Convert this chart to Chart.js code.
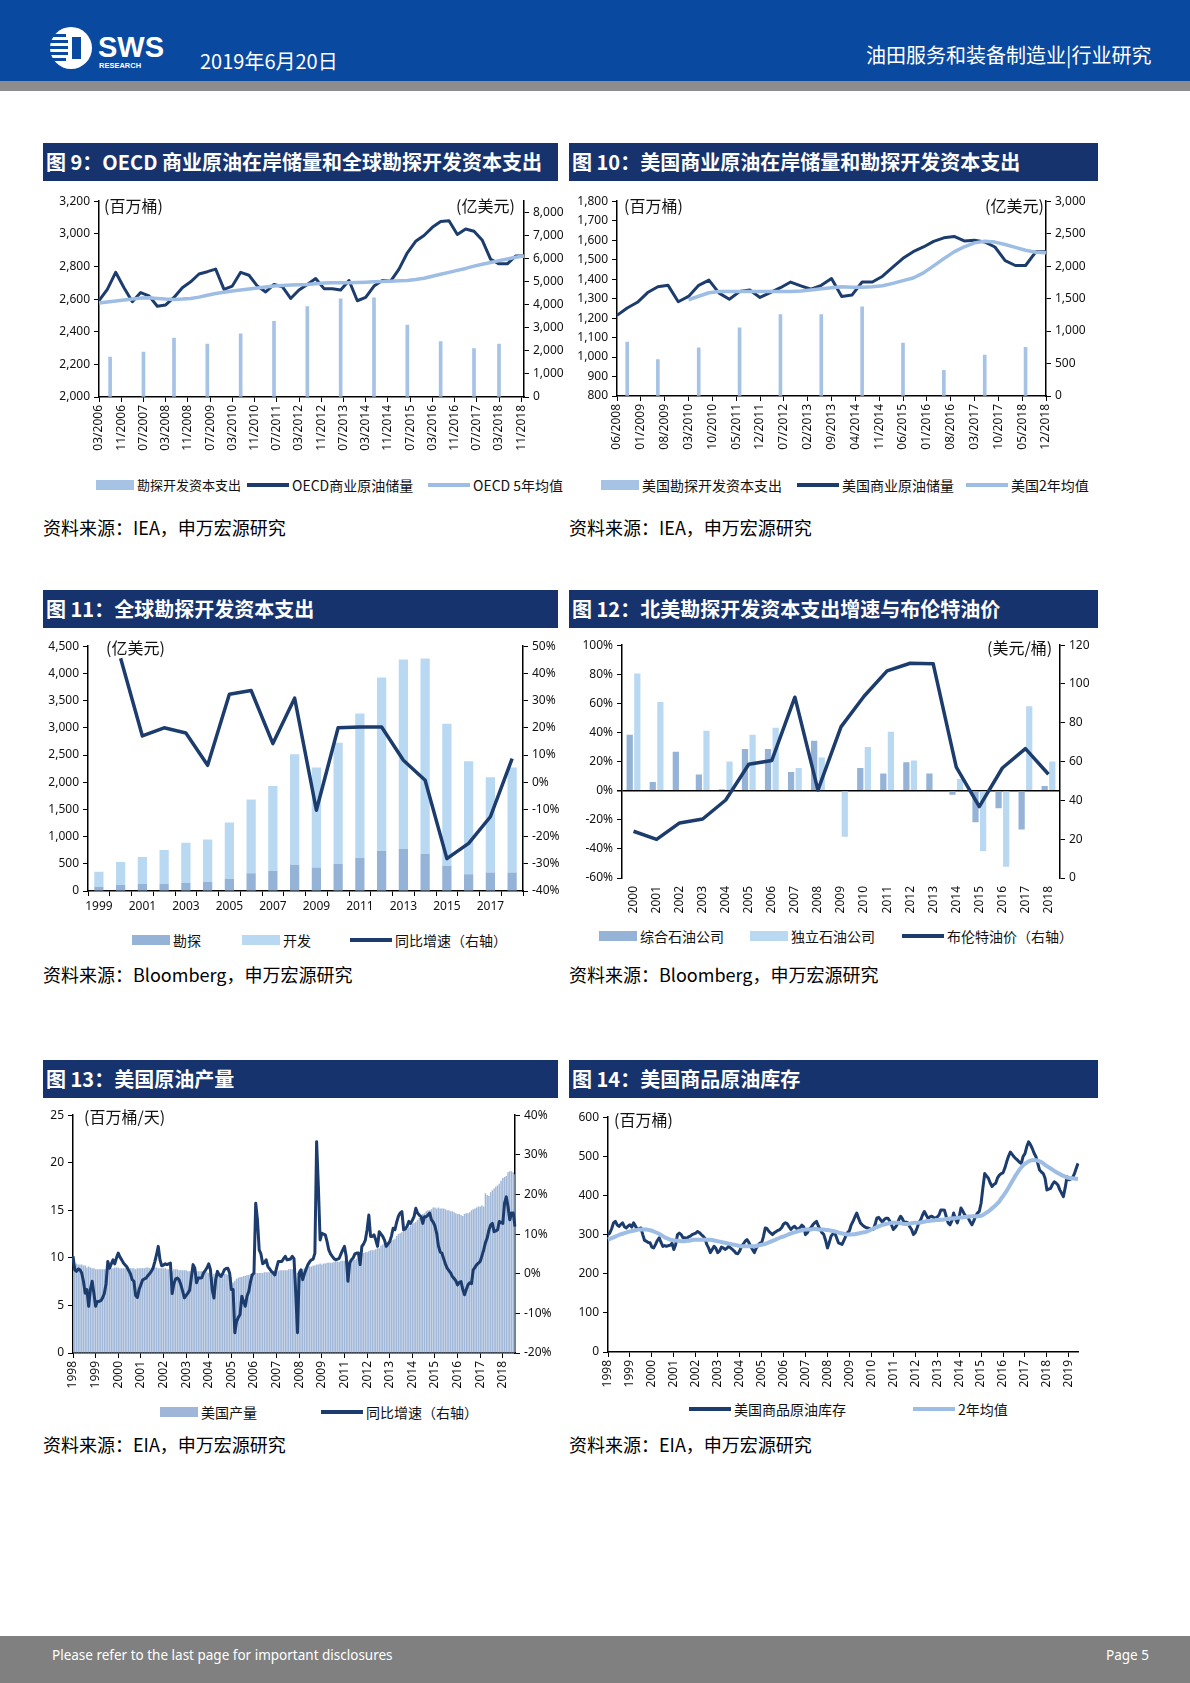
<!DOCTYPE html>
<html>
<head>
<meta charset="utf-8">
<script src="https://cdn.jsdelivr.net/npm/chart.js@4.4.1/dist/chart.umd.min.js"></script>
<style>
  body { margin: 0; width: 1190px; height: 1683px; position: relative; background: #fff; overflow: hidden;
         font-family: "Noto Sans CJK SC", "Noto Sans", sans-serif; }
  .abs { position: absolute; }
  .fig { position: absolute; height: 38px; background: #17336e; color: #fff; font-weight: bold; font-size: 20px;
         line-height: 38px; padding-left: 3px; box-sizing: border-box; white-space: nowrap; }
  .box { position: absolute; }
  .src { position: absolute; font-size: 18px; color: #000; white-space: nowrap; }
  .unit { position: absolute; font-size: 16px; color: #111; white-space: nowrap; line-height: 18px; }
  .leg { position: absolute; font-size: 14px; color: #111; display: flex; align-items: center; white-space: nowrap; line-height: 18px; }
  .sw { display: inline-block; margin-right: 3px; }
</style>
</head>
<body>

<!-- page header -->
<div class="abs" style="left:0;top:0;width:1190px;height:81px;background:#0a49a0"></div>
<div class="abs" style="left:0;top:81px;width:1190px;height:10px;background:#8c8c8c"></div>
<svg class="abs" style="left:50px;top:26px" width="130" height="46">
  <circle cx="21" cy="22" r="21" fill="#fff"/>
  <rect x="0" y="8" width="16" height="3" fill="#0a49a0"/>
  <rect x="0" y="14" width="18" height="3" fill="#0a49a0"/>
  <rect x="0" y="20" width="18" height="3" fill="#0a49a0"/>
  <rect x="0" y="26" width="18" height="3" fill="#0a49a0"/>
  <rect x="0" y="32" width="16" height="3" fill="#0a49a0"/>
  <path d="M22 11 h9 v22 h-9 z" fill="#0a49a0"/>
  <text x="48" y="31" font-family="Liberation Sans" font-weight="bold" font-size="29" fill="#fff">SWS</text>
  <text x="49" y="42" font-family="Liberation Sans" font-weight="bold" font-size="7.5" fill="#fff">RESEARCH</text>
</svg>
<div class="abs" style="left:200px;top:48px;color:#fff;font-size:20px;line-height:26px">2019年6月20日</div>
<div class="abs" style="left:866px;top:42px;color:#fff;font-size:20px;line-height:26px;white-space:nowrap">油田服务和装备制造业|行业研究</div>

<!-- row 1 -->
<div class="fig" style="left:43px;top:143px;width:515px">图 9：OECD 商业原油在岸储量和全球勘探开发资本支出</div>
<div class="fig" style="left:569px;top:143px;width:529px">图 10：美国商业原油在岸储量和勘探开发资本支出</div>
<div class="box" style="left:43px;top:190px;width:530px;height:272px"><canvas id="c9"></canvas></div>
<div class="box" style="left:569px;top:190px;width:531px;height:271px"><canvas id="c10"></canvas></div>
<div class="unit" style="left:104px;top:196px">(百万桶)</div>
<div class="unit" style="left:456px;top:196px">(亿美元)</div>
<div class="unit" style="left:624px;top:196px">(百万桶)</div>
<div class="unit" style="left:985px;top:196px">(亿美元)</div>

<div class="leg" style="left:96px;top:476px;font-size:13px"><span class="sw" style="width:38px;height:10px;background:#a6c3e6"></span>勘探开发资本支出</div>
<div class="leg" style="left:247px;top:476px"><span class="sw" style="width:42px;height:4px;background:#1c3c6d"></span>OECD商业原油储量</div>
<div class="leg" style="left:428px;top:476px"><span class="sw" style="width:42px;height:4px;background:#9dbde4"></span>OECD 5年均值</div>
<div class="leg" style="left:601px;top:476px"><span class="sw" style="width:38px;height:10px;background:#a6c3e6"></span>美国勘探开发资本支出</div>
<div class="leg" style="left:797px;top:476px"><span class="sw" style="width:42px;height:4px;background:#1c3c6d"></span>美国商业原油储量</div>
<div class="leg" style="left:966px;top:476px"><span class="sw" style="width:42px;height:4px;background:#9dbde4"></span>美国2年均值</div>

<div class="src" style="left:43px;top:514px">资料来源：IEA，申万宏源研究</div>
<div class="src" style="left:569px;top:514px">资料来源：IEA，申万宏源研究</div>

<!-- row 2 -->
<div class="fig" style="left:43px;top:590px;width:515px">图 11：全球勘探开发资本支出</div>
<div class="fig" style="left:569px;top:590px;width:529px">图 12：北美勘探开发资本支出增速与布伦特油价</div>
<div class="box" style="left:43px;top:635px;width:530px;height:286px"><canvas id="c11"></canvas></div>
<div class="box" style="left:569px;top:634px;width:531px;height:284px"><canvas id="c12"></canvas></div>
<div class="unit" style="left:106px;top:638px">(亿美元)</div>
<div class="unit" style="left:987px;top:638px">(美元/桶)</div>

<div class="leg" style="left:132px;top:931px"><span class="sw" style="width:38px;height:10px;background:#95b3d7"></span>勘探</div>
<div class="leg" style="left:242px;top:931px"><span class="sw" style="width:38px;height:10px;background:#b9d9f2"></span>开发</div>
<div class="leg" style="left:350px;top:931px"><span class="sw" style="width:42px;height:4px;background:#1c3c6d"></span>同比增速（右轴）</div>
<div class="leg" style="left:599px;top:927px"><span class="sw" style="width:38px;height:10px;background:#95b3d7"></span>综合石油公司</div>
<div class="leg" style="left:750px;top:927px"><span class="sw" style="width:38px;height:10px;background:#b9d9f2"></span>独立石油公司</div>
<div class="leg" style="left:902px;top:927px"><span class="sw" style="width:42px;height:4px;background:#1c3c6d"></span>布伦特油价（右轴）</div>

<div class="src" style="left:43px;top:961px">资料来源：Bloomberg，申万宏源研究</div>
<div class="src" style="left:569px;top:961px">资料来源：Bloomberg，申万宏源研究</div>

<!-- row 3 -->
<div class="fig" style="left:43px;top:1060px;width:515px">图 13：美国原油产量</div>
<div class="fig" style="left:569px;top:1060px;width:529px">图 14：美国商品原油库存</div>
<div class="box" style="left:43px;top:1104px;width:530px;height:294px"><canvas id="c13"></canvas></div>
<div class="box" style="left:569px;top:1106px;width:531px;height:291px"><canvas id="c14"></canvas></div>
<div class="unit" style="left:84px;top:1107px">(百万桶/天)</div>
<div class="unit" style="left:614px;top:1110px">(百万桶)</div>

<div class="leg" style="left:160px;top:1403px"><span class="sw" style="width:38px;height:10px;background:#9fb6d8"></span>美国产量</div>
<div class="leg" style="left:321px;top:1403px"><span class="sw" style="width:42px;height:4px;background:#1c3c6d"></span>同比增速（右轴）</div>
<div class="leg" style="left:689px;top:1400px"><span class="sw" style="width:42px;height:4px;background:#1c3c6d"></span>美国商品原油库存</div>
<div class="leg" style="left:913px;top:1400px"><span class="sw" style="width:42px;height:4px;background:#9dbde4"></span>2年均值</div>

<div class="src" style="left:43px;top:1431px">资料来源：EIA，申万宏源研究</div>
<div class="src" style="left:569px;top:1431px">资料来源：EIA，申万宏源研究</div>

<!-- footer -->
<div class="abs" style="left:0;top:1636px;width:1190px;height:47px;background:#808080"></div>
<div class="abs" style="left:52px;top:1646px;color:#fff;font-family:'Noto Sans';font-size:13.5px">Please refer to the last page for important disclosures</div>
<div class="abs" style="left:1106px;top:1646px;color:#fff;font-family:'Noto Sans';font-size:13.5px">Page 5</div>

<script>
// Fig 9: OECD stocks (quarterly from 03/2006), global E&P capex (annual)
const oecdStart = '03/2006';
const oecdStock = [2590, 2660, 2764, 2670, 2584, 2640, 2620, 2556, 2564, 2610, 2670, 2706, 2754,
  2768, 2784, 2660, 2680, 2764, 2746, 2680, 2644, 2690, 2676, 2604, 2656, 2690, 2726, 2664, 2664,
  2656, 2714, 2590, 2610, 2680, 2714, 2710, 2784, 2884, 2954, 2990, 3040, 3076, 3080, 2996, 3030,
  3016, 2960, 2844, 2816, 2816, 2864, 2864];
const oecd5yAvg = [2576, 2582, 2588, 2594, 2600, 2606, 2608, 2604, 2600, 2598, 2600, 2604, 2612,
  2624, 2634, 2642, 2650, 2656, 2662, 2668, 2674, 2680, 2684, 2686, 2688, 2690, 2694, 2698, 2700,
  2700, 2700, 2702, 2704, 2706, 2708, 2710, 2712, 2714, 2720, 2728, 2740, 2752, 2764, 2776, 2788,
  2802, 2814, 2824, 2836, 2846, 2856, 2864];
const globalCapexMonths = ['07/2006', '07/2007', '06/2008', '06/2009', '06/2010', '06/2011', '06/2012',
  '06/2013', '06/2014', '06/2015', '06/2016', '06/2017', '03/2018'];
const globalCapex = [1730, 1950, 2560, 2300, 2740, 3290, 3930, 4260, 4300, 3120, 2410, 2100, 2300];

// Fig 10: US stocks (quarterly from 06/2008), 2y average (from 03/2010), US capex
const usStart = '06/2008';
const usStock = [1214, 1252, 1281, 1331, 1361, 1368, 1284, 1311, 1368, 1395, 1328, 1297, 1336, 1344,
  1306, 1331, 1356, 1385, 1365, 1348, 1368, 1403, 1311, 1318, 1385, 1385, 1415, 1461, 1507, 1541,
  1565, 1594, 1612, 1619, 1596, 1599, 1591, 1565, 1495, 1470, 1470, 1540, 1540];
const us2yStart = '03/2010';
const us2yAvg = [1294, 1312, 1330, 1336, 1337, 1336, 1336, 1336, 1336, 1336, 1337, 1339, 1344, 1350,
  1356, 1361, 1358, 1358, 1361, 1366, 1378, 1392, 1406, 1432, 1468, 1505, 1540, 1566, 1586, 1594,
  1590, 1578, 1563, 1548, 1538, 1535];
const usCapexMonths = ['09/2008', '06/2009', '06/2010', '06/2011', '06/2012', '06/2013', '06/2014',
  '06/2015', '06/2016', '06/2017', '06/2018'];
const usCapex = [830, 560, 740, 1050, 1255, 1255, 1375, 815, 395, 630, 750];

// Fig 11: global capex by year
const capexYears = ['1999', '2000', '2001', '2002', '2003', '2004', '2005', '2006', '2007', '2008',
  '2009', '2010', '2011', '2012', '2013', '2014', '2015', '2016', '2017', '2018'];
const capexExplore = [80, 110, 128, 128, 147, 165, 220, 324, 373, 483, 434, 495, 605, 733, 770, 678,
  464, 306, 342, 342];
const capexTotal = [355, 532, 623, 752, 886, 947, 1259, 1681, 1932, 2512, 2268, 2726, 3264, 3924,
  4254, 4273, 3075, 2384, 2090, 2268];
const capexYoY = [null, 45.6, 17.0, 20.0, 18.1, 6.2, 32.3, 33.7, 14.2, 30.9, -10.3, 20.0, 20.3, 20.3,
  8.1, 0.7, -28.1, -22.5, -12.7, 8.7];

// Fig 12: North America capex growth and Brent
const naYears = ['2000', '2001', '2002', '2003', '2004', '2005', '2006', '2007', '2008', '2009',
  '2010', '2011', '2012', '2013', '2014', '2015', '2016', '2017', '2018'];
const integratedGrowth = [38.5, 5.9, 26.7, 11.1, 1.0, 28.7, 28.7, 12.9, 34.4, 0, 15.6, 11.8, 19.5,
  11.8, -2.7, -21.7, -12.0, -26.7, 3.2];
const independentGrowth = [80.5, 60.9, 0, 41.2, 20.1, 38.5, 43.2, 15.6, 22.9, -31.7, 30.1, 40.5,
  20.8, 0, 8.1, -41.4, -52.3, 58.1, 20.1];
const brent = [24.1, 19.9, 28.4, 30.4, 40.2, 58.6, 60.6, 93.2, 45.3, 77.9, 93.7, 106.8, 110.7, 110.4,
  57.2, 36.8, 56.7, 66.7, 53.5];

// Fig 13: US production, monthly from 1998-01
const prodStart = [1998, 1];
const usProduction = [
  10.2, 9.4, 9.4, 9.3, 9.3, 9.3, 9.2, 9.2, 9.0, 9.1, 9.0, 8.9,
  8.9, 8.8, 8.8, 8.8, 8.8, 8.8, 8.8, 8.8, 8.8, 8.9, 8.9, 8.9,
  9.0, 9.0, 9.0, 8.9, 8.9, 8.9, 8.9, 8.9, 8.9, 8.9, 8.9, 8.9,
  8.8, 8.9, 8.9, 8.9, 8.9, 8.9, 9.0, 9.0, 8.9, 9.0, 9.0, 9.0,
  9.0, 8.9, 8.9, 8.9, 8.9, 8.9, 8.8, 8.8, 8.4, 8.6, 8.8, 8.8,
  8.8, 8.7, 8.7, 8.7, 8.7, 8.7, 8.6, 8.6, 8.6, 8.6, 8.6, 8.6,
  8.6, 8.6, 8.6, 8.5, 8.5, 8.5, 8.4, 8.5, 8.0, 8.3, 8.4, 8.4,
  8.4, 8.4, 8.4, 8.3, 8.3, 8.2, 8.0, 8.0, 7.4, 7.6, 7.8, 7.9,
  8.0, 8.0, 8.1, 8.1, 8.2, 8.2, 8.3, 8.3, 8.3, 8.4, 8.4, 8.4,
  8.4, 8.4, 8.5, 8.5, 8.5, 8.5, 8.6, 8.6, 8.6, 8.6, 8.6, 8.7,
  8.7, 8.7, 8.7, 8.7, 8.8, 8.8, 8.8, 8.7, 7.9, 8.4, 8.7, 8.8,
  8.8, 8.9, 9.0, 9.1, 9.1, 9.1, 9.2, 9.2, 9.3, 9.3, 9.4, 9.3,
  9.4, 9.4, 9.5, 9.5, 9.5, 9.5, 9.6, 9.6, 9.6, 9.6, 9.7, 9.7,
  9.7, 9.6, 9.7, 9.8, 9.8, 9.8, 9.8, 9.9, 10.0, 10.2, 10.4, 10.5,
  10.6, 10.6, 10.7, 10.8, 10.8, 10.8, 10.9, 11.0, 11.0, 11.3, 11.4, 11.5,
  11.5, 11.6, 11.7, 11.8, 11.9, 12.0, 12.3, 12.5, 12.6, 12.7, 12.9, 13.0,
  13.0, 13.2, 13.4, 13.6, 13.7, 13.8, 14.0, 14.2, 14.3, 14.6, 14.7, 14.9,
  15.0, 15.0, 15.1, 15.3, 15.3, 15.2, 15.3, 15.2, 15.2, 15.2, 15.1, 15.0,
  15.0, 14.9, 14.9, 14.8, 14.7, 14.6, 14.6, 14.5, 14.4, 14.6, 14.7, 14.7,
  14.8, 15.0, 15.1, 15.2, 15.3, 15.4, 15.4, 15.5, 15.4, 16.8, 16.6, 16.5,
  16.9, 17.1, 17.3, 17.5, 17.6, 17.8, 18.1, 18.4, 18.5, 18.6, 19.0, 19.1,
  19.1, 19.0, 18.8];
const productionYoY = [
  4.4, 1.0, 0.6, 1.2, 1.0, 0.2, -1.9, -4.9, -4.0, -8.2, -4.0, -1.9,
  -4.9, -8.2, -7.0, -7.0, -6.8, -6.1, -5.0, -2.5, 3.1, 1.4, 2.5, 3.5,
  2.5, 4.0, 5.2, 4.2, 3.5, 2.7, 2.2, 1.7, 0.8, 0.0, -1.5, -1.9,
  -5.5, -6.0, -4.0, -2.8, -1.6, -1.3, -1.1, -0.5, 0.0, 0.6, 1.4, 3.0,
  4.8, 6.9, 3.5, 2.0, 2.2, 2.5, 2.3, 2.5, 2.7, -5.0, -2.5, -1.3,
  -1.1, -1.6, -2.8, -4.4, -6.1, -5.5, -4.9, -4.2, -1.0, 2.3, 1.4, -2.3,
  -1.1, -1.1, -1.0, 0.2, 0.8, 1.5, 2.5, 1.0, -4.0, -6.1, -1.5, 0.6,
  -0.3, -0.7, 0.0, 1.0, 1.3, 1.4, 0.2, -4.0, -4.0, -14.9, -12.0, -11.0,
  -10.3, -5.7, -7.0, -8.2, -5.7, -4.5, -2.0, -0.3, 0.2, 17.8, 13.6, 6.0,
  5.0, 2.5, 2.8, 3.5, 1.8, 1.2, 0.6, 0.2, -0.3, 1.5, 3.1, 3.1,
  3.1, 3.8, 4.4, 3.5, 3.6, 3.7, 4.4, 3.8, -4.9, -14.9, 0.2, 1.0,
  -1.5, 0.0, 1.2, 2.3, 3.0, 3.5, 3.7, 5.2, 33.3, 22.0, 8.5, 10.2,
  10.0, 9.8, 8.1, 6.0, 5.0, 4.4, 3.8, 3.5, 3.7, 3.9, 5.0, 6.0,
  6.9, 4.4, -1.9, 2.7, 3.5, 4.0, 5.0, 5.2, 5.2, 2.3, 6.9, 7.5,
  8.5, 11.1, 14.8, 9.4, 9.4, 9.8, 8.5, 6.9, 10.6, 10.0, 9.4, 8.5,
  6.9, 7.5, 8.1, 9.5, 11.5, 11.1, 13.0, 14.5, 15.3, 15.7, 11.1, 11.3,
  12.0, 13.2, 12.7, 13.5, 14.4, 16.5, 15.3, 14.8, 14.4, 12.7, 14.4, 14.4,
  14.8, 15.3, 13.6, 13.0, 12.0, 10.2, 7.0, 5.5, 5.2, 3.8, 2.5, 1.4,
  0.8, 0.2, -0.7, -1.2, -1.8, -2.8, -2.2, -2.0, -4.0, -5.3, -4.0, -2.8,
  -2.3, -2.5, 1.0, 1.6, 2.3, 2.7, 3.1, 4.5, 6.0, 7.8, 9.0, 11.0,
  12.3, 12.7, 10.6, 10.8, 11.1, 13.2, 12.9, 12.7, 17.8, 19.4, 16.9, 13.6,
  15.3, 15.3, 11.9];

// Fig 14: US commercial crude stocks, monthly from 1998-01
const stockStart = [1998, 1];
const usCommercialStock = [
  300, 304, 315, 330, 334, 325, 321, 326, 330, 320, 317, 322,
  325, 319, 330, 322, 313, 315, 317, 300, 285, 283, 280, 279,
  268, 266, 275, 285, 292, 280, 270, 272, 270, 272, 273, 278,
  262, 275, 300, 304, 300, 292, 292, 290, 294, 296, 300, 302,
  304, 308, 305, 300, 296, 290, 275, 266, 254, 262, 270, 265,
  254, 258, 268, 266, 262, 265, 270, 266, 262, 258, 252, 251,
  258, 270, 276, 283, 287, 280, 270, 262, 254, 265, 273, 278,
  279, 295, 317, 315, 308, 304, 300, 305, 308, 311, 313, 318,
  327, 330, 328, 320, 313, 318, 321, 316, 313, 318, 324, 320,
  300, 305, 313, 318, 325, 330, 334, 322, 313, 305, 300, 285,
  266, 280, 296, 302, 304, 292, 279, 277, 275, 285, 296, 305,
  310, 325, 334, 345, 355, 342, 330, 325, 321, 318, 317, 315,
  313, 313, 325, 342, 344, 338, 332, 338, 342, 342, 335, 325,
  313, 318, 325, 338, 347, 340, 330, 332, 330, 320, 313, 300,
  305, 317, 330, 338, 350, 359, 350, 342, 345, 347, 344, 342,
  345, 350, 363, 363, 362, 345, 330, 325, 335, 355, 340, 330,
  345, 368, 360, 351, 345, 342, 333, 325, 335, 347, 355, 359,
  380, 420, 456, 450, 444, 432, 423, 428, 431, 445, 452, 456,
  458, 470, 486, 500, 511, 505, 499, 494, 490, 485, 482, 500,
  507, 525, 537, 530, 520, 508, 499, 482, 465, 460, 456, 444,
  414, 416, 418, 428, 435, 432, 427, 415, 406, 397, 420, 448,
  440, 442, 445, 455, 469, 482];
const stock2yAvg = [
  287, 289, 291, 293, 295, 297, 299, 301, 302, 304, 305, 307,
  308, 309, 310, 311, 312, 313, 313, 313, 313, 313, 312, 311,
  310, 308, 306, 304, 302, 299, 296, 293, 291, 289, 287, 286,
  285, 285, 284, 284, 283, 283, 283, 284, 284, 285, 286, 287,
  287, 287, 287, 287, 287, 287, 287, 287, 287, 286, 285, 284,
  283, 282, 281, 280, 279, 278, 277, 276, 275, 274, 273, 272,
  271, 270, 270, 270, 270, 270, 270, 270, 270, 271, 272, 273,
  274, 275, 276, 278, 280, 282, 284, 286, 288, 290, 292, 294,
  295, 297, 299, 301, 303, 304, 306, 307, 309, 310, 311, 312,
  313, 313, 313, 313, 314, 314, 314, 313, 313, 313, 313, 312,
  312, 311, 310, 309, 308, 307, 305, 304, 303, 302, 301, 300,
  300, 300, 301, 301, 302, 303, 304, 305, 306, 307, 309, 311,
  313, 315, 317, 319, 321, 323, 325, 326, 327, 328, 329, 330,
  330, 330, 330, 330, 329, 328, 327, 327, 327, 328, 329, 330,
  330, 330, 330, 331, 332, 333, 334, 335, 335, 336, 336, 337,
  337, 337, 338, 338, 339, 340, 340, 341, 341, 342, 342, 343,
  343, 344, 344, 345, 345, 346, 346, 347, 347, 347, 347, 347,
  348, 350, 353, 356, 359, 363, 367, 371, 375, 380, 385, 392,
  398, 405, 412, 420, 428, 436, 444, 452, 459, 466, 472, 477,
  481, 484, 487, 489, 490, 490, 490, 489, 487, 485, 482, 478,
  475, 472, 469, 466, 463, 460, 457, 455, 452, 450, 448, 446,
  445, 444, 444, 443, 443, 443];

const DARK = '#1c3c6d';
const LIGHT = '#9dbde4';

Chart.defaults.font.family = '"Noto Sans", "Noto Sans CJK SC", sans-serif';
Chart.defaults.font.size = 12;
Chart.defaults.color = '#111';
Chart.defaults.animation = false;
Chart.defaults.plugins.legend.display = false;
Chart.defaults.plugins.tooltip.enabled = false;
Chart.defaults.maintainAspectRatio = false;

// "MM/YYYY" month labels
function monthLabels(year, month, count) {
  const out = [];
  for (let i = 0; i < count; i++) {
    const m = (month - 1 + i) % 12 + 1;
    const y = year + Math.floor((month - 1 + i) / 12);
    out.push(String(m).padStart(2, '0') + '/' + y);
  }
  return out;
}

// put a quarterly series onto the monthly category list
function quarterly(labels, start, values) {
  const out = labels.map(() => null);
  const i0 = labels.indexOf(start);
  values.forEach((v, k) => { out[i0 + k * 3] = v; });
  return out;
}

function atMonths(labels, months, values) {
  const out = labels.map(() => null);
  months.forEach((m, k) => { out[labels.indexOf(m)] = values[k]; });
  return out;
}

const fmtComma = v => v.toLocaleString('en-US');
const fmtPct = v => v + '%';

function yAxis(position, min, max, step, fmt, width) {
  return {
    position: position, min: min, max: max,
    ticks: { stepSize: step, callback: fmt, padding: 4 },
    grid: { drawOnChartArea: false, drawTicks: true, tickLength: 5, color: '#000' },
    border: { display: true, color: '#000', width: 1.5 },
    afterFit: s => { s.width = width; }
  };
}

function xAxis(height, cb, rotate) {
  return {
    offset: false,
    ticks: { autoSkip: false, maxRotation: rotate ? 90 : 0, minRotation: rotate ? 90 : 0, callback: cb, padding: 3 },
    grid: { offset: false, drawOnChartArea: false, drawTicks: true, tickLength: 5, color: '#000' },
    border: { display: true, color: '#000', width: 1.5 },
    afterFit: s => { s.height = height; }
  };
}

function lineSet(label, data, color, width, axis) {
  return { type: 'line', label: label, data: data, borderColor: color, backgroundColor: color,
    borderWidth: width, pointRadius: 0, tension: 0, spanGaps: true, borderJoinStyle: 'round',
    yAxisID: axis, order: 1 };
}

// ---- Fig 9
const labels9 = monthLabels(2006, 3, 154);
new Chart(document.getElementById('c9'), {
  type: 'bar',
  data: {
    labels: labels9,
    datasets: [
      { label: '勘探开发资本支出', data: atMonths(labels9, globalCapexMonths, globalCapex), backgroundColor: '#a6c3e6',
        barThickness: 3, yAxisID: 'y1', order: 2 },
      lineSet('OECD 5年均值', quarterly(labels9, oecdStart, oecd5yAvg), LIGHT, 3.5, 'y'),
      lineSet('OECD商业原油储量', quarterly(labels9, oecdStart, oecdStock), DARK, 3, 'y')
    ]
  },
  options: {
    layout: { padding: { top: 10 } },
    scales: {
      x: xAxis(65, (v, i) => i % 8 === 0 ? labels9[i] : null, true),
      y: yAxis('left', 2000, 3200, 200, fmtComma, 56),
      y1: yAxis('right', 0, 8500, 500, v => v % 1000 === 0 ? fmtComma(v) : null, 49)
    }
  }
});

// ---- Fig 10
const labels10 = monthLabels(2008, 6, 127);
new Chart(document.getElementById('c10'), {
  type: 'bar',
  data: {
    labels: labels10,
    datasets: [
      { label: '美国勘探开发资本支出', data: atMonths(labels10, usCapexMonths, usCapex), backgroundColor: '#a6c3e6',
        barThickness: 3, yAxisID: 'y1', order: 2 },
      lineSet('美国2年均值', quarterly(labels10, us2yStart, us2yAvg), LIGHT, 3.5, 'y'),
      lineSet('美国商业原油储量', quarterly(labels10, usStart, usStock), DARK, 3, 'y')
    ]
  },
  options: {
    layout: { padding: { top: 10 } },
    scales: {
      x: xAxis(65, (v, i) => i % 7 === 0 ? labels10[i] : null, true),
      y: yAxis('left', 800, 1800, 100, fmtComma, 48),
      y1: yAxis('right', 0, 3000, 500, fmtComma, 54)
    }
  }
});

// ---- Fig 11
const capexDevelop = capexTotal.map((t, i) => t - capexExplore[i]);
const x11 = xAxis(30, (v, i) => i % 2 === 0 ? capexYears[i] : '', false);
x11.offset = true; x11.grid.offset = true; x11.stacked = true;
const y11 = yAxis('left', 0, 4500, 500, fmtComma, 45);
y11.stacked = true;
new Chart(document.getElementById('c11'), {
  type: 'bar',
  data: {
    labels: capexYears,
    datasets: [
      { label: '勘探', data: capexExplore, backgroundColor: '#95b3d7', stack: 's', yAxisID: 'y', order: 2,
        barPercentage: 0.85, categoryPercentage: 0.5 },
      { label: '开发', data: capexDevelop, backgroundColor: '#b9d9f2', stack: 's', yAxisID: 'y', order: 2,
        barPercentage: 0.85, categoryPercentage: 0.5 },
      Object.assign(lineSet('同比增速（右轴）', capexYoY, DARK, 3.5, 'y1'), { spanGaps: false })
    ]
  },
  options: {
    layout: { padding: { top: 10 } },
    scales: {
      x: x11,
      y: y11,
      y1: yAxis('right', -40, 50, 10, fmtPct, 50)
    }
  }
});

// ---- Fig 12
const x12 = xAxis(40, (v, i) => naYears[i], true);
x12.offset = true; x12.grid.display = false; x12.border.display = false;
const y12 = yAxis('left', -60, 100, 20, fmtPct, 53);
y12.grid = { drawOnChartArea: true, drawTicks: true, tickLength: 5,
  color: c => c.tick && c.tick.value === 0 ? '#000' : 'rgba(0,0,0,0)', tickColor: '#000',
  lineWidth: c => c.tick && c.tick.value === 0 ? 1.5 : 1 };
new Chart(document.getElementById('c12'), {
  type: 'bar',
  data: {
    labels: naYears,
    datasets: [
      { label: '综合石油公司', data: integratedGrowth, backgroundColor: '#95b3d7', yAxisID: 'y', order: 2,
        barPercentage: 0.82, categoryPercentage: 0.66 },
      { label: '独立石油公司', data: independentGrowth, backgroundColor: '#b9d9f2', yAxisID: 'y', order: 2,
        barPercentage: 0.82, categoryPercentage: 0.66 },
      lineSet('布伦特油价（右轴）', brent, DARK, 3.5, 'y1')
    ]
  },
  options: {
    layout: { padding: { top: 10 } },
    scales: {
      x: x12,
      y: y12,
      y1: yAxis('right', 0, 120, 20, v => v, 40)
    }
  }
});

// ---- Fig 13
const labels13 = usProduction.map((_, i) => {
  const m = (prodStart[1] - 1 + i) % 12 + 1;
  return (prodStart[0] + Math.floor((prodStart[1] - 1 + i) / 12)) + '-' + String(m).padStart(2, '0');
});
new Chart(document.getElementById('c13'), {
  type: 'bar',
  data: {
    labels: labels13,
    datasets: [
      { label: '美国产量', data: usProduction, backgroundColor: '#a0b7d8', yAxisID: 'y', order: 2,
        barPercentage: 0.85, categoryPercentage: 1 },
      lineSet('同比增速（右轴）', productionYoY, DARK, 3, 'y1')
    ]
  },
  options: {
    layout: { padding: { top: 10 } },
    scales: {
      x: xAxis(45, (v, i) => i % 13 === 0 ? labels13[i].slice(0, 4) : null, true),
      y: yAxis('left', 0, 25, 5, v => v, 30),
      y1: yAxis('right', -20, 40, 10, fmtPct, 58)
    }
  }
});

// ---- Fig 14
const labels14 = usCommercialStock.map((_, i) => {
  const m = (stockStart[1] - 1 + i) % 12 + 1;
  return (stockStart[0] + Math.floor((stockStart[1] - 1 + i) / 12)) + '-' + String(m).padStart(2, '0');
});
new Chart(document.getElementById('c14'), {
  type: 'line',
  data: {
    labels: labels14,
    datasets: [
      lineSet('2年均值', stock2yAvg, LIGHT, 4, 'y'),
      lineSet('美国商品原油库存', usCommercialStock, DARK, 3, 'y')
    ]
  },
  options: {
    layout: { padding: { top: 10, right: 22 } },
    scales: {
      x: xAxis(45, (v, i) => i % 12 === 0 ? labels14[i].slice(0, 4) : null, true),
      y: yAxis('left', 0, 600, 100, v => v, 39)
    }
  }
});
</script>
</body>
</html>
